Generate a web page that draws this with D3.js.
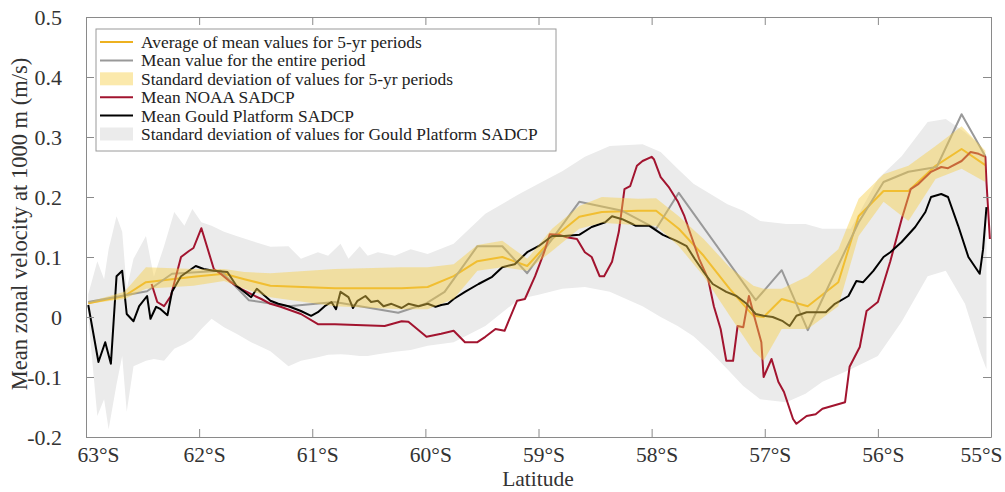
<!DOCTYPE html>
<html>
<head>
<meta charset="utf-8">
<script src="https://cdn.jsdelivr.net/npm/d3@7"></script>
<style>
  body { margin: 0; background: #fff; }
  svg { display: block; font-family: "Liberation Serif", "Times New Roman", serif; }
</style>
</head>
<body>
<svg id="chart" width="1005" height="492"></svg>
<script>
// Latitudes are given in degrees south (positive numbers).

// Average of mean values for 5-yr periods, with its standard-deviation envelope
const yrLat  = [62.98, 62.66, 62.47, 62.05, 61.78, 61.60, 61.37, 60.80, 60.21, 59.98, 59.75, 59.54, 59.32, 59.10, 58.88, 58.64, 58.44, 58.12, 57.96, 57.76, 57.54, 57.31, 57.10, 57.01, 56.85, 56.62, 56.35, 56.17, 55.95, 55.73, 55.49, 55.26, 55.05];
const yrMean = [0.023, 0.035, 0.058, 0.067, 0.072, 0.063, 0.052, 0.048, 0.048, 0.050, 0.068, 0.093, 0.100, 0.085, 0.130, 0.167, 0.175, 0.177, 0.177, 0.147, 0.102, 0.047, 0.002, 0.000, 0.030, 0.018, 0.058, 0.168, 0.210, 0.210, 0.252, 0.280, 0.253];
const yrHigh = [0.025, 0.042, 0.083, 0.080, 0.080, 0.075, 0.073, 0.080, 0.083, 0.083, 0.088, 0.120, 0.127, 0.097, 0.147, 0.185, 0.200, 0.197, 0.198, 0.168, 0.130, 0.083, 0.052, 0.047, 0.047, 0.068, 0.113, 0.197, 0.238, 0.252, 0.285, 0.318, 0.277];
const yrLow  = [0.022, 0.030, 0.047, 0.052, 0.060, 0.047, 0.033, 0.018, 0.013, 0.013, 0.030, 0.077, 0.083, 0.077, 0.110, 0.147, 0.157, 0.153, 0.152, 0.118, 0.068, 0.002, -0.057, -0.073, -0.020, -0.020, 0.018, 0.135, 0.192, 0.160, 0.230, 0.247, 0.225];

// Mean value for the entire period
const allLat  = [62.98, 62.46, 62.24, 61.81, 61.56, 61.21, 60.80, 60.24, 60.00, 59.83, 59.54, 59.32, 59.10, 58.64, 58.26, 57.96, 57.76, 57.08, 56.85, 56.62, 56.17, 55.95, 55.73, 55.48, 55.26, 55.05];
const allMean = [0.025, 0.043, 0.072, 0.077, 0.028, 0.018, 0.025, 0.007, 0.022, 0.042, 0.118, 0.118, 0.073, 0.192, 0.177, 0.147, 0.207, 0.028, 0.078, -0.022, 0.158, 0.225, 0.242, 0.250, 0.338, 0.268];

// Mean NOAA SADCP
const noaaLat = [62.42, 62.37, 62.31, 62.25, 62.16, 62.09, 62.05, 61.98, 61.93, 61.87, 61.81, 61.72, 61.63, 61.54, 61.45, 61.37, 61.28, 61.10, 60.95, 60.80, 60.36, 60.21, 60.15, 59.99, 59.86, 59.75, 59.65, 59.54, 59.47, 59.38, 59.30, 59.19, 59.12, 59.03, 58.95, 58.90, 58.82, 58.75, 58.66, 58.59, 58.53, 58.46, 58.42, 58.35, 58.29, 58.24, 58.19, 58.13, 58.08, 58.00, 57.98, 57.92, 57.85, 57.77, 57.71, 57.65, 57.58, 57.50, 57.45, 57.39, 57.34, 57.28, 57.24, 57.19, 57.14, 57.08, 57.03, 57.01, 56.94, 56.88, 56.83, 56.75, 56.72, 56.63, 56.55, 56.49, 56.29, 56.25, 56.16, 56.10, 56.00, 55.89, 55.79, 55.71, 55.64, 55.53, 55.44, 55.38, 55.26, 55.18, 55.11, 55.05, 55.04, 55.01];
const noaaVal = [0.055, 0.025, 0.018, 0.035, 0.100, 0.110, 0.115, 0.148, 0.117, 0.080, 0.072, 0.058, 0.047, 0.038, 0.030, 0.022, 0.017, 0.005, -0.012, -0.012, -0.015, -0.007, -0.008, -0.033, -0.028, -0.023, -0.042, -0.042, -0.033, -0.020, -0.023, 0.027, 0.030, 0.068, 0.108, 0.138, 0.137, 0.133, 0.130, 0.108, 0.100, 0.068, 0.068, 0.092, 0.142, 0.213, 0.218, 0.252, 0.260, 0.267, 0.263, 0.233, 0.217, 0.193, 0.168, 0.135, 0.097, 0.063, 0.018, -0.020, -0.073, -0.073, -0.015, -0.017, 0.035, -0.008, -0.042, -0.100, -0.070, -0.108, -0.125, -0.170, -0.178, -0.165, -0.162, -0.153, -0.142, -0.083, -0.050, 0.010, 0.025, 0.093, 0.163, 0.213, 0.222, 0.242, 0.250, 0.248, 0.260, 0.275, 0.272, 0.267, 0.225, 0.130];

// Mean Gould Platform SADCP
const gouldLat = [62.98, 62.89, 62.83, 62.78, 62.73, 62.68, 62.64, 62.58, 62.53, 62.46, 62.43, 62.38, 62.34, 62.28, 62.24, 62.16, 62.03, 61.96, 61.87, 61.75, 61.67, 61.54, 61.49, 61.37, 61.30, 61.21, 61.10, 61.01, 60.95, 60.89, 60.83, 60.79, 60.75, 60.68, 60.64, 60.60, 60.53, 60.48, 60.42, 60.37, 60.30, 60.21, 60.15, 60.06, 59.98, 59.91, 59.86, 59.80, 59.75, 59.65, 59.53, 59.41, 59.32, 59.21, 59.10, 59.00, 58.88, 58.77, 58.64, 58.53, 58.41, 58.35, 58.26, 58.17, 58.14, 58.02, 57.90, 57.78, 57.69, 57.62, 57.54, 57.46, 57.34, 57.25, 57.16, 57.08, 57.01, 56.93, 56.84, 56.78, 56.72, 56.63, 56.55, 56.46, 56.38, 56.26, 56.19, 56.13, 56.04, 55.95, 55.89, 55.79, 55.67, 55.58, 55.53, 55.44, 55.38, 55.29, 55.20, 55.10, 55.07, 55.04];
const gouldVal = [0.020, -0.075, -0.042, -0.078, 0.068, 0.077, 0.005, -0.007, 0.018, 0.035, -0.003, 0.017, 0.013, 0.003, 0.042, 0.068, 0.085, 0.080, 0.077, 0.075, 0.052, 0.033, 0.047, 0.027, 0.022, 0.018, 0.010, 0.002, 0.008, 0.018, 0.025, 0.013, 0.042, 0.033, 0.015, 0.027, 0.035, 0.025, 0.027, 0.018, 0.022, 0.015, 0.022, 0.018, 0.022, 0.017, 0.020, 0.022, 0.030, 0.042, 0.055, 0.067, 0.083, 0.088, 0.108, 0.118, 0.135, 0.135, 0.137, 0.150, 0.158, 0.168, 0.163, 0.155, 0.152, 0.152, 0.137, 0.127, 0.118, 0.097, 0.075, 0.055, 0.042, 0.035, 0.022, 0.005, 0.002, 0.000, -0.007, -0.015, 0.002, 0.008, 0.008, 0.008, 0.022, 0.035, 0.060, 0.058, 0.077, 0.100, 0.108, 0.125, 0.150, 0.175, 0.200, 0.205, 0.200, 0.152, 0.100, 0.072, 0.113, 0.183];

// Standard deviation envelope for Gould Platform SADCP
const sdLat  = [62.98, 62.90, 62.84, 62.80, 62.73, 62.68, 62.64, 62.58, 62.47, 62.40, 62.31, 62.22, 62.13, 62.06, 61.98, 61.89, 61.78, 61.67, 61.54, 61.37, 61.21, 61.10, 60.95, 60.86, 60.75, 60.68, 60.58, 60.51, 60.42, 60.27, 60.13, 59.98, 59.75, 59.47, 59.17, 59.00, 58.79, 58.59, 58.37, 58.08, 57.92, 57.77, 57.63, 57.48, 57.33, 57.19, 57.04, 56.81, 56.64, 56.49, 56.24, 56.00, 55.79, 55.56, 55.40, 55.23, 55.09, 55.04];
const sdHigh = [0.038, 0.093, 0.063, 0.113, 0.168, 0.142, 0.047, 0.097, 0.135, 0.067, 0.118, 0.175, 0.152, 0.180, 0.158, 0.152, 0.142, 0.135, 0.127, 0.117, 0.118, 0.097, 0.108, 0.102, 0.122, 0.097, 0.118, 0.102, 0.108, 0.102, 0.113, 0.105, 0.122, 0.172, 0.205, 0.222, 0.243, 0.267, 0.285, 0.288, 0.275, 0.247, 0.222, 0.205, 0.188, 0.177, 0.160, 0.155, 0.155, 0.147, 0.147, 0.230, 0.268, 0.325, 0.330, 0.308, 0.285, 0.268];
const sdLow  = [0.000, -0.165, -0.137, -0.187, -0.112, -0.065, -0.158, -0.082, -0.073, -0.070, -0.073, -0.053, -0.045, -0.037, -0.020, -0.003, -0.017, -0.028, -0.042, -0.057, -0.082, -0.073, -0.067, -0.063, -0.062, -0.063, -0.065, -0.065, -0.062, -0.058, -0.055, -0.048, -0.042, -0.015, 0.030, 0.037, 0.047, 0.050, 0.042, 0.018, 0.000, -0.015, -0.032, -0.058, -0.087, -0.115, -0.137, -0.142, -0.128, -0.108, -0.087, -0.065, -0.008, 0.068, 0.077, 0.022, -0.062, -0.087];

// Axis ticks
const latTicks = [63, 62, 61, 60, 59, 58, 57, 56, 55];
const velTicks = [-0.2, -0.1, 0, 0.1, 0.2, 0.3, 0.4, 0.5];

const legendLabels = [
  "Average of mean values for 5-yr periods",
  "Mean value for the entire period",
  "Standard deviation of values for 5-yr periods",
  "Mean NOAA SADCP",
  "Mean Gould Platform SADCP",
  "Standard deviation of values for Gould Platform SADCP"
];

const COL = {
  yrLine: "#EDB120",
  allLine: "#999999",
  yrBand: "rgb(247,206,70)",
  noaa: "#A2142F",
  gould: "#000000",
  sdBand: "#ebebeb",
  axis: "#8a8a8a",
  text: "#333333"
};

const svg = d3.select("#chart");
const pL = 86, pR = 991, pT = 17, pB = 437;

const x = d3.scaleLinear().domain([63, 55]).range([pL, pR]);
const y = d3.scaleLinear().domain([-0.2, 0.5]).range([pB, pT]);

svg.append("defs").append("clipPath").attr("id", "plotClip")
  .append("rect").attr("x", pL).attr("y", pT)
  .attr("width", pR - pL).attr("height", pB - pT);

const plot = svg.append("g").attr("clip-path", "url(#plotClip)");

const zip = (a, b) => a.map((v, i) => [v, b[i]]);
const line = d3.line().x(d => x(d[0])).y(d => y(d[1]));
const band = d3.area().x(d => x(d[0])).y0(d => y(d[1])).y1(d => y(d[2]));

// Gould standard-deviation envelope (bottom layer)
plot.append("path")
  .datum(sdLat.map((l, i) => [l, sdLow[i], sdHigh[i]]))
  .attr("d", band).attr("fill", COL.sdBand).attr("stroke", "none");

// Lines
function drawLine(lat, val, color) {
  plot.append("path").datum(zip(lat, val)).attr("d", line)
    .attr("fill", "none").attr("stroke", color).attr("stroke-width", 2)
    .attr("stroke-linejoin", "round");
}
drawLine(yrLat, yrMean, COL.yrLine);
drawLine(allLat, allMean, COL.allLine);
drawLine(noaaLat, noaaVal, COL.noaa);
drawLine(gouldLat, gouldVal, COL.gould);

// 5-yr standard-deviation envelope, translucent on top
plot.append("path")
  .datum(yrLat.map((l, i) => [l, yrLow[i], yrHigh[i]]))
  .attr("d", band).attr("fill", COL.yrBand).attr("fill-opacity", 0.45).attr("stroke", "none");

// Axes with inward ticks on all four sides
function styleAxis(g, size) {
  g.selectAll("path.domain").attr("stroke", COL.axis).attr("stroke-width", 1);
  g.selectAll(".tick line").attr("stroke", COL.axis);
  g.selectAll(".tick text").attr("fill", COL.text)
    .style("font-family", '"Liberation Serif", "Times New Roman", serif')
    .style("font-size", size + "px");
}

const xAxisG = svg.append("g").attr("transform", `translate(0,${pB})`)
  .call(d3.axisBottom(x).tickValues(latTicks).tickFormat(d => d + "°S")
    .tickSizeInner(-8).tickSizeOuter(0).tickPadding(10))
  .call(g => styleAxis(g, 21.5));
// keep the outermost labels inside the figure
xAxisG.selectAll(".tick text")
  .attr("dx", d => (d === 63 ? 12 : d === 55 ? -10 : 5));

svg.append("g").attr("transform", `translate(0,${pT})`)
  .call(d3.axisTop(x).tickValues(latTicks).tickFormat("")
    .tickSizeInner(-8).tickSizeOuter(0))
  .call(g => styleAxis(g, 21.5));

svg.append("g").attr("transform", `translate(${pL},0)`)
  .call(d3.axisLeft(y).tickValues(velTicks)
    .tickFormat(d => (Math.abs(d) < 1e-9 ? "0" : d3.format(".1f")(d).replace("−", "-")))
    .tickSizeInner(-8).tickSizeOuter(0).tickPadding(24))
  .call(g => styleAxis(g, 22));

svg.append("g").attr("transform", `translate(${pR},0)`)
  .call(d3.axisRight(y).tickValues(velTicks).tickFormat("")
    .tickSizeInner(-8).tickSizeOuter(0))
  .call(g => styleAxis(g, 22));

// Axis titles
svg.append("text")
  .attr("x", 538).attr("y", 486)
  .attr("text-anchor", "middle").attr("fill", COL.text)
  .style("font-size", "21.5px").text("Latitude");

svg.append("text")
  .attr("transform", `translate(27,${(pT + pB) / 2 - 3}) rotate(-90)`)
  .attr("text-anchor", "middle").attr("fill", COL.text)
  .style("font-size", "22.5px").text("Mean zonal velocity at 1000 m (m/s)");

// Legend
const lg = svg.append("g");
lg.append("rect").attr("x", 96).attr("y", 29).attr("width", 460).attr("height", 122)
  .attr("fill", "#fff").attr("stroke", "#9a9a9a").attr("stroke-width", 1);

const legendKeys = [
  { type: "line", color: COL.yrLine },
  { type: "line", color: COL.allLine },
  { type: "band", color: COL.yrBand, opacity: 0.45 },
  { type: "line", color: COL.noaa },
  { type: "line", color: COL.gould },
  { type: "band", color: COL.sdBand, opacity: 1 }
];
const rowY = i => 42 + i * 18.4;

legendKeys.forEach((k, i) => {
  const cy = rowY(i);
  if (k.type === "line") {
    lg.append("line").attr("x1", 100).attr("x2", 133).attr("y1", cy).attr("y2", cy)
      .attr("stroke", k.color).attr("stroke-width", 2);
  } else {
    lg.append("rect").attr("x", 100).attr("y", cy - 6.5).attr("width", 33).attr("height", 13)
      .attr("fill", k.color).attr("fill-opacity", k.opacity);
  }
  lg.append("text").attr("x", 141).attr("y", cy).attr("dy", "0.35em")
    .attr("fill", "#222").style("font-size", "17.4px").text(legendLabels[i]);
});
</script>
</body>
</html>
